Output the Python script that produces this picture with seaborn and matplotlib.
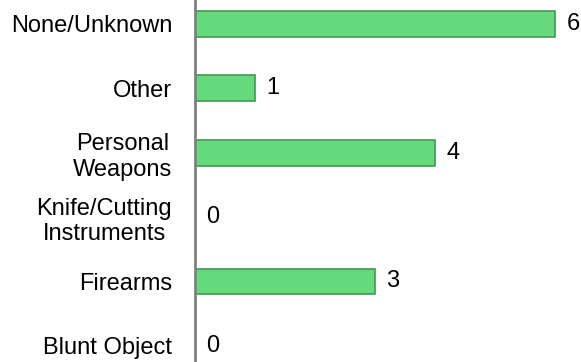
import matplotlib
matplotlib.use("Agg")
import matplotlib.pyplot as plt
import seaborn as sns
import pandas as pd

sns.set_theme(style="white")
plt.rcParams["font.family"] = ["Liberation Sans", "DejaVu Sans"]

# =========================
# DATA
# =========================
categories = ["None/Unknown", "Other", "Personal\nWeapons",
              "Knife/Cutting\nInstruments", "Firearms", "Blunt Object"]
counts = [6, 1, 4, 0, 3, 0]

df = pd.DataFrame({"Category": categories, "Count": counts})

# =========================
# PLOT
# =========================
fig = plt.figure(figsize=(5.81, 3.62), dpi=100)
ax = fig.add_axes([0.3356, 0.0, 0.6644, 1.0])

sns.barplot(data=df, y="Category", x="Count", orient="h", ax=ax,
            color="#66d97c", edgecolor="#3f9a52", linewidth=1.2,
            width=0.4, saturation=1)

for i, v in enumerate(counts):
    ax.text(v + 0.19, i, str(v), va="center", ha="left",
            fontsize=17, color="black")

ax.set_xlim(0, 6.43)
ax.set_ylim(5.25, -0.37)
ax.set_xlabel("")
ax.set_ylabel("")
ax.set_xticks([])
ax.tick_params(axis="y", length=0, pad=16.5, labelsize=17, labelcolor="black")
for lbl in ax.get_yticklabels():
    lbl.set_multialignment("center")

for s in ["top", "right", "bottom"]:
    ax.spines[s].set_visible(False)
ax.spines["left"].set_color("#808080")
ax.spines["left"].set_linewidth(2)

fig.savefig("out.png", dpi=100)
